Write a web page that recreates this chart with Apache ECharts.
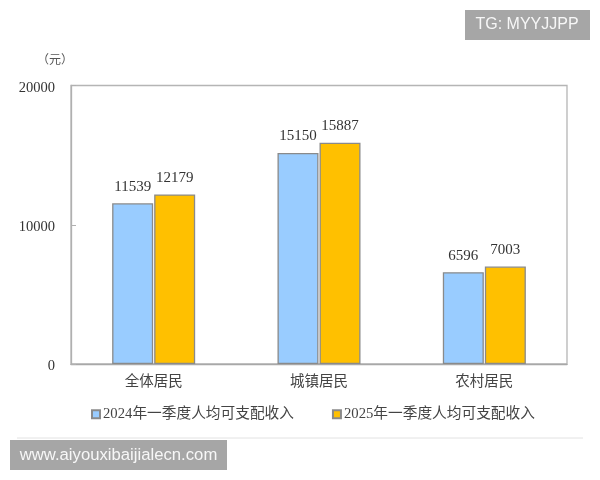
<!DOCTYPE html>
<html><head><meta charset="utf-8">
<style>html,body{margin:0;padding:0;background:#fff}#c{width:600px;height:480px}</style>
<script src="https://cdn.jsdelivr.net/npm/echarts@6/dist/echarts.min.js"></script>
</head><body><div id="c"></div>
<script>
const categories = ['全体居民','城镇居民','农村居民'];
const seriesNames = ['2024年一季度人均可支配收入','2025年一季度人均可支配收入'];
const income2024 = [11539,15150,6596];
const income2025 = [12179,15887,7003];
const unitLabel = '（元）';
const watermarkTop = 'TG: MYYJJPP';
const watermarkBottom = 'www.aiyouxibaijialecn.com';
const serif = '"Liberation Serif","Noto Sans CJK SC",serif';
const chart = echarts.init(document.getElementById('c'), null, {renderer:'canvas'});
const lab = {show:true,position:'top',distance:9,fontFamily:serif,fontSize:15,color:'#333'};
const bar = (name,data,color)=>({name,type:'bar',data,barWidth:41,barGap:'2.5%',
  itemStyle:{color,borderColor:'#8a8a8a',borderWidth:1.3},label:lab});
chart.setOption({
  animation:false,
  backgroundColor:'#fff',
  grid:{left:71,right:33,top:85.5,bottom:116,show:true,borderColor:'#b5b5b5',borderWidth:1.3,backgroundColor:'#fff'},
  xAxis:{type:'category',data:categories,
    axisLine:{lineStyle:{color:'#a8a8a8',width:1.3}},axisTick:{show:false},
    axisLabel:{fontFamily:serif,fontSize:14.5,color:'#444',margin:11}},
  yAxis:{type:'value',min:0,max:20000,interval:10000,
    axisLine:{show:true,lineStyle:{color:'#b0b0b0',width:1.3}},
    axisTick:{show:true,inside:true,length:5,lineStyle:{color:'#b0b0b0'}},
    splitLine:{show:false},
    axisLabel:{formatter:v=>String(v),fontFamily:serif,fontSize:14.5,color:'#333',margin:16,verticalAlign:'top',lineHeight:5}},
  legend:{left:86,top:402,itemWidth:8,itemHeight:8,itemGap:38,icon:'rect',
    textStyle:{fontFamily:serif,fontSize:14.7,color:'#444',padding:[0,0,0,-2]}},
  series:[bar(seriesNames[0],income2024,'#99ccff'),bar(seriesNames[1],income2025,'#ffc000')],
  graphic:[
    {type:'text',left:37,top:55,style:{text:unitLabel,fontFamily:serif,fontSize:12,fill:'#555'}},
    {type:'line',shape:{x1:17,y1:438,x2:583,y2:438},style:{stroke:'#e2e2e2',lineWidth:1}},
    {type:'rect',shape:{x:465,y:10,width:125,height:30},style:{fill:'#a6a6a6'}},
    {type:'text',x:527,y:25,style:{text:watermarkTop,align:'center',verticalAlign:'middle',fontFamily:'"Liberation Sans",sans-serif',fontSize:16,fill:'#f7f7f7'}},
    {type:'rect',shape:{x:10,y:440,width:217,height:30},style:{fill:'#a6a6a6'}},
    {type:'text',x:118.5,y:455,style:{text:watermarkBottom,align:'center',verticalAlign:'middle',fontFamily:'"Liberation Sans",sans-serif',fontSize:16.7,fill:'#f7f7f7'}}
  ]
});
</script></body></html>
